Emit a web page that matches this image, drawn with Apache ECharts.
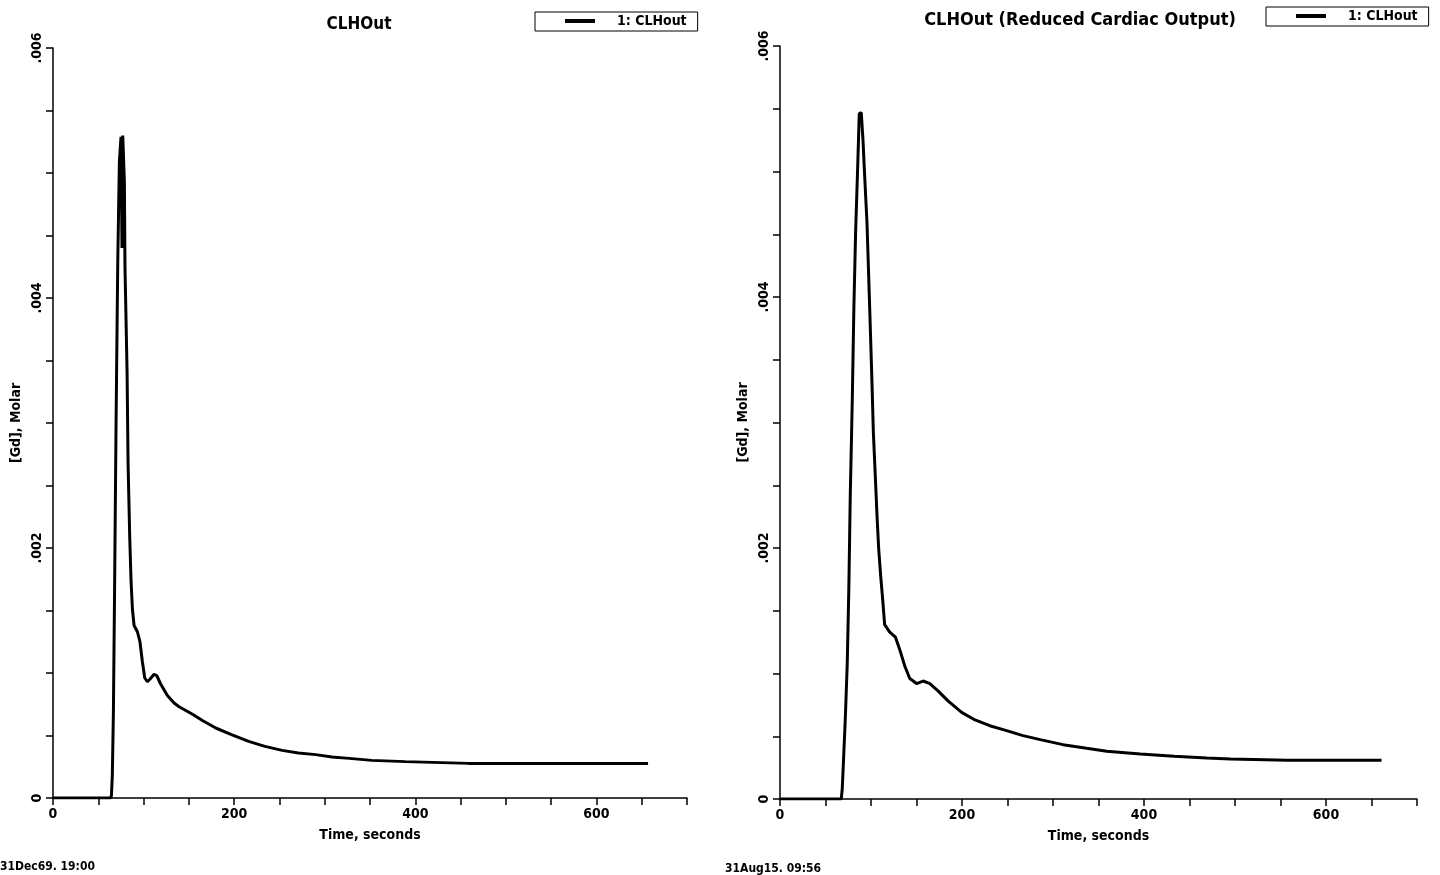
<!DOCTYPE html>
<html>
<head>
<meta charset="utf-8">
<script src="https://cdn.jsdelivr.net/npm/echarts@6/dist/echarts.min.js"></script>
<style>
html,body{margin:0;padding:0;background:#fff;}
#chart{width:1440px;height:875px;}
</style>
</head>
<body>
<div id="chart"></div>
<script>
// ---- data ----
const leftTitle = 'CLHOut';
const rightTitle = 'CLHOut (Reduced Cardiac Output)';
const seriesName = '1: CLHout';
const xAxisName = 'Time, seconds';
const yAxisName = '[Gd], Molar';
const leftStamp = '31Dec69. 19:00';
const rightStamp = '31Aug15. 09:56';
const xTickLabels = ['0', '200', '400', '600'];
const yTickLabels = ['0', '.002', '.004', '.006'];

const leftT = [0, 63.7, 64.5, 65.5, 66.7, 68, 69.6, 71.5, 73.3, 75.1, 76.2, 77, 78.8, 79.5, 81.8, 82.9, 84.7, 86.2, 87.7, 89.5, 93.2, 96, 98.7, 101.3, 104.2, 107, 111.6, 114.5, 119, 126.3, 133.7, 139.2, 154, 165, 179.7, 197, 216, 234, 253, 271, 290, 308, 327, 352, 389, 459, 657];
const leftV = [0, 0, 0.00002, 0.00018, 0.00069, 0.00167, 0.00298, 0.00429, 0.00509, 0.00529, 0.0044, 0.0053, 0.00493, 0.00424, 0.0034, 0.00267, 0.00209, 0.00173, 0.00151, 0.00138, 0.00133, 0.00125, 0.00109, 0.00096, 0.00093, 0.00095, 0.00099, 0.00098, 0.00091, 0.00082, 0.00076, 0.00073, 0.00067, 0.00062, 0.00056, 0.000507, 0.000453, 0.000413, 0.000381, 0.00036, 0.000347, 0.000328, 0.000317, 0.000301, 0.000291, 0.000277, 0.000277];

const rightT = [0, 67.3, 68.4, 69.8, 71.7, 73.9, 75.7, 77.2, 79.4, 81.2, 83.1, 85.3, 87.1, 89.3, 91.2, 93, 95.6, 97.4, 99.3, 101.1, 102.6, 104.8, 106.6, 108.4, 110.6, 112.5, 115, 120.6, 126.8, 131.6, 137.1, 142.6, 150, 157.3, 164.7, 173.9, 184.9, 199.6, 214.3, 230.5, 249, 267, 286, 311, 337, 359, 396, 433, 469, 495, 558, 661];
const rightV = [0, 0, 0.00008, 0.00031, 0.00063, 0.00108, 0.0017, 0.00241, 0.00317, 0.00392, 0.00452, 0.00502, 0.00546, 0.00547, 0.00525, 0.00497, 0.00459, 0.00418, 0.00374, 0.00331, 0.00292, 0.00256, 0.00226, 0.002, 0.00178, 0.00162, 0.00139, 0.00133, 0.00129, 0.00119, 0.00106, 0.00096, 0.00092, 0.00094, 0.00092, 0.00086, 0.00078, 0.00069, 0.00063, 0.000584, 0.000545, 0.000505, 0.000473, 0.000433, 0.000404, 0.00038, 0.000359, 0.00034, 0.000327, 0.000319, 0.000308, 0.000308];

// ---- chart ----
const FONT = "'DejaVu Sans Condensed', 'DejaVu Sans', sans-serif";
const pairs = (xs, ys) => xs.map((x, i) => [x, ys[i]]);

function xFmt(v) {
  const i = xTickLabels.indexOf(String(Math.round(v)));
  return (Math.abs(v % 200) < 1e-9) && i >= 0 ? xTickLabels[i] : '';
}
function yFmt(v) {
  const k = Math.round(v / 0.0005);
  if (k % 4 !== 0) return '';
  return yTickLabels[k / 4] || '';
}

function xAxis(gi) {
  return {
    gridIndex: gi, type: 'value', min: 0, max: 700, interval: 50,
    name: xAxisName, nameLocation: 'middle', nameGap: 30,
    nameTextStyle: { fontFamily: FONT, fontWeight: 'bold', fontSize: 14, color: '#000' },
    axisLine: { show: true, onZero: false, lineStyle: { color: '#000', width: 1.5 } },
    axisTick: { show: true, inside: false, length: 7, lineStyle: { color: '#000', width: 1.5 } },
    axisLabel: { formatter: xFmt, fontFamily: FONT, fontWeight: 'bold', fontSize: 14, color: '#000', margin: 9, showMinLabel: true, showMaxLabel: true },
    splitLine: { show: false }
  };
}
function yAxis(gi) {
  return {
    gridIndex: gi, type: 'value', min: 0, max: 0.006, interval: 0.0005,
    name: yAxisName, nameLocation: 'middle', nameGap: 30, nameRotate: 90,
    nameTextStyle: { fontFamily: FONT, fontWeight: 'bold', fontSize: 14, color: '#000' },
    axisLine: { show: true, lineStyle: { color: '#000', width: 1.5 } },
    axisTick: { show: true, inside: false, length: 7, lineStyle: { color: '#000', width: 1.5 } },
    axisLabel: { formatter: yFmt, rotate: 90, fontFamily: FONT, fontWeight: 'bold', fontSize: 14, color: '#000', margin: 9, showMinLabel: true, showMaxLabel: true },
    splitLine: { show: false }
  };
}
function legend(left, top) {
  return {
    data: [seriesName], left: left, top: top, orient: 'horizontal',
    borderColor: '#000', borderWidth: 1, borderRadius: 0,
    padding: [2, 11, 3, 30],
    icon: 'rect', itemWidth: 30, itemHeight: 4,
    selectedMode: false,
    textStyle: { fontFamily: FONT, fontWeight: 'bold', fontSize: 14, color: '#000', padding: [0, 0, 0, 17] }
  };
}

const chart = echarts.init(document.getElementById('chart'), null, { renderer: 'canvas' });
chart.setOption({
  backgroundColor: '#fff',
  animation: false,
  title: [
    { text: leftTitle, left: 354, top: 11, textAlign: 'center', textStyle: { fontFamily: FONT, fontWeight: 'bold', fontSize: 17, color: '#000' } },
    { text: rightTitle, left: 1075, top: 6, textAlign: 'center', textStyle: { fontFamily: FONT, fontWeight: 'bold', fontSize: 18, color: '#000' } }
  ],
  legend: [legend(535, 12), legend(1266, 7)],
  grid: [
    { left: 53, right: 753, top: 48, bottom: 77, containLabel: false },
    { left: 780, right: 23, top: 46, bottom: 76, containLabel: false }
  ],
  xAxis: [xAxis(0), xAxis(1)],
  yAxis: [yAxis(0), yAxis(1)],
  graphic: [
    { type: 'text', left: 0, top: 861, style: { text: leftStamp, font: "bold 12px 'DejaVu Sans Condensed', sans-serif", fill: '#000' } },
    { type: 'text', left: 725, top: 863, style: { text: rightStamp, font: "bold 12px 'DejaVu Sans Condensed', sans-serif", fill: '#000' } }
  ],
  series: [
    { name: seriesName, type: 'line', xAxisIndex: 0, yAxisIndex: 0, data: pairs(leftT, leftV), showSymbol: false, symbol: 'none', lineStyle: { color: '#000', width: 3 }, itemStyle: { color: '#000' } },
    { name: seriesName, type: 'line', xAxisIndex: 1, yAxisIndex: 1, data: pairs(rightT, rightV), showSymbol: false, symbol: 'none', lineStyle: { color: '#000', width: 3 }, itemStyle: { color: '#000' } }
  ]
});
</script>
</body>
</html>
